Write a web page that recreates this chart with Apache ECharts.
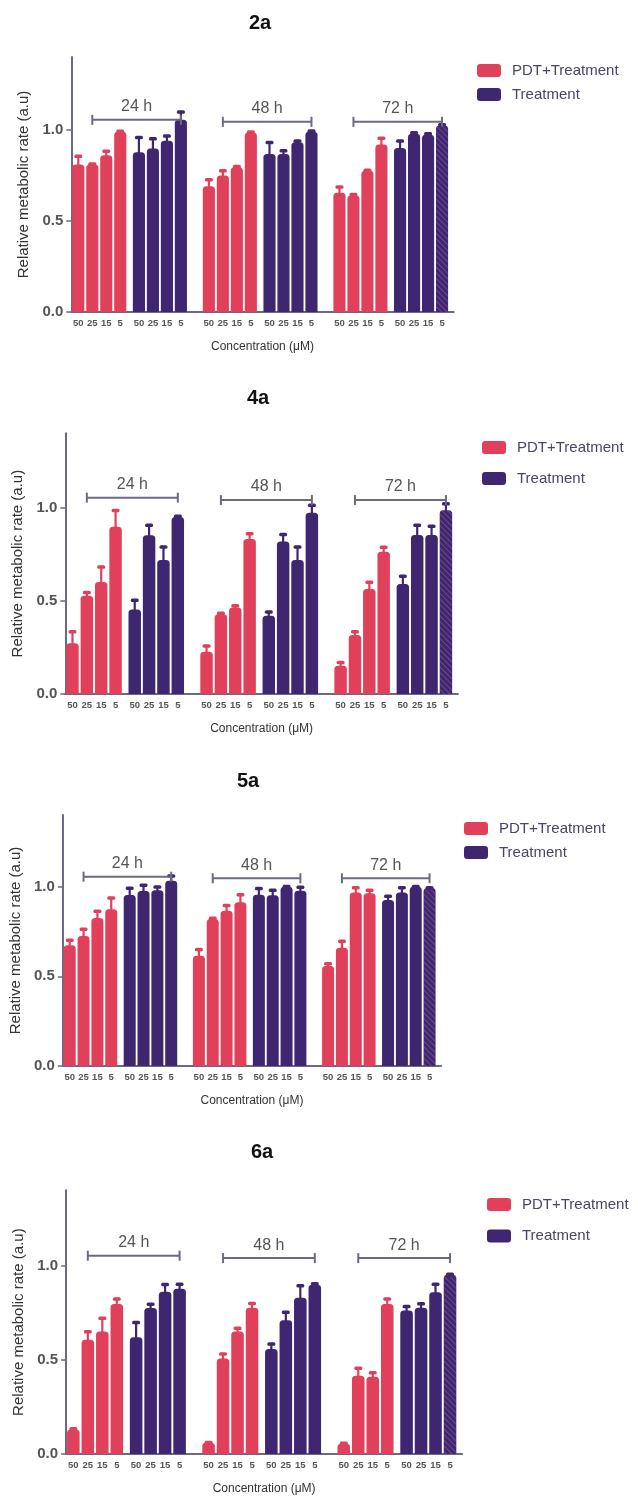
<!DOCTYPE html>
<html><head><meta charset="utf-8">
<script src="https://cdn.jsdelivr.net/npm/echarts@6/dist/echarts.min.js"></script>
<style>html,body{margin:0;padding:0;background:#fff}#chart{width:638px;height:1496px}</style>
</head><body><div id="chart"></div>
<script>
// ---------- DATA ----------
const concentrations = ['50', '25', '15', '5'];
const timepoints = ['24 h', '48 h', '72 h'];
const seriesNames = ['PDT+Treatment', 'Treatment'];
const panelTitles = ['2a', '4a', '5a', '6a'];
const yTickValues = [0, 0.5, 1.0];

// values ordered 24 h (50,25,15,5), 48 h (50,25,15,5), 72 h (50,25,15,5)
const p2a_pdt     = [0.81, 0.81, 0.86, 0.99, 0.69, 0.75, 0.795, 0.985, 0.655, 0.64, 0.775, 0.92];
const p2a_pdt_err = [0.047, 0.004, 0.024, 0.004, 0.037, 0.027, 0.005, 0.005, 0.033, 0.006, 0.005, 0.035];
const p2a_trt     = [0.877, 0.898, 0.94, 1.055, 0.867, 0.868, 0.932, 0.989, 0.90, 0.978, 0.973, 1.024];
const p2a_trt_err = [0.083, 0.054, 0.027, 0.044, 0.065, 0.019, 0.008, 0.006, 0.04, 0.007, 0.007, 0.006];
const p2a_brackets = [1.055, 1.044, 1.044];

const p4a_pdt     = [0.272, 0.528, 0.601, 0.898, 0.227, 0.428, 0.465, 0.832, 0.152, 0.317, 0.564, 0.764];
const p4a_pdt_err = [0.063, 0.018, 0.082, 0.089, 0.032, 0.007, 0.01, 0.03, 0.018, 0.018, 0.037, 0.025];
const p4a_trt     = [0.454, 0.852, 0.719, 0.95, 0.42, 0.819, 0.719, 0.973, 0.59, 0.853, 0.853, 0.987];
const p4a_trt_err = [0.05, 0.055, 0.072, 0.005, 0.022, 0.038, 0.072, 0.041, 0.043, 0.054, 0.049, 0.036];
const p4a_brackets = [1.054, 1.041, 1.041];

const p5a_pdt     = [0.673, 0.725, 0.825, 0.875, 0.615, 0.82, 0.866, 0.913, 0.558, 0.66, 0.968, 0.963];
const p5a_pdt_err = [0.03, 0.039, 0.039, 0.064, 0.036, 0.005, 0.03, 0.044, 0.014, 0.037, 0.028, 0.018];
const p5a_trt     = [0.954, 0.976, 0.98, 1.033, 0.955, 0.952, 1.0, 0.978, 0.926, 0.968, 1.0, 0.993];
const p5a_trt_err = [0.039, 0.033, 0.02, 0.028, 0.036, 0.029, 0.003, 0.02, 0.022, 0.028, 0.002, 0.002];
const p5a_brackets = [1.056, 1.047, 1.047];

const p6a_pdt     = [0.13, 0.606, 0.65, 0.796, 0.06, 0.507, 0.651, 0.776, 0.055, 0.415, 0.41, 0.796];
const p6a_pdt_err = [0.005, 0.044, 0.072, 0.028, 0.003, 0.025, 0.018, 0.025, 0.003, 0.041, 0.023, 0.028];
const p6a_trt     = [0.62, 0.775, 0.861, 0.877, 0.558, 0.71, 0.829, 0.898, 0.762, 0.776, 0.859, 0.951];
const p6a_trt_err = [0.08, 0.021, 0.04, 0.026, 0.027, 0.044, 0.065, 0.007, 0.023, 0.023, 0.044, 0.004];
const p6a_brackets = [1.053, 1.04, 1.04];

const panelData = [
  {pdt: p2a_pdt, pdtErr: p2a_pdt_err, trt: p2a_trt, trtErr: p2a_trt_err, brackets: p2a_brackets},
  {pdt: p4a_pdt, pdtErr: p4a_pdt_err, trt: p4a_trt, trtErr: p4a_trt_err, brackets: p4a_brackets},
  {pdt: p5a_pdt, pdtErr: p5a_pdt_err, trt: p5a_trt, trtErr: p5a_trt_err, brackets: p5a_brackets},
  {pdt: p6a_pdt, pdtErr: p6a_pdt_err, trt: p6a_trt, trtErr: p6a_trt_err, brackets: p6a_brackets}
];

// ---------- LAYOUT / STYLE ----------
const FONT = '"Liberation Sans", Arial, sans-serif';
const RED = '#e0405a';
const PURPLE = '#3e2670';
const AXIS = '#6d6a80';
const layouts = [
  {left: 71.3, width: 382.4, top: 57, height: 255, title: [260, 23], legend: {left: 477, top: 63, gap: 9}},
  {left: 65.3, width: 392.6, top: 433.2, height: 260.8, title: [258, 398], legend: {left: 482, top: 440, gap: 16}},
  {left: 62.8, width: 378.3, top: 815, height: 251, title: [248, 781], legend: {left: 464, top: 821, gap: 9}},
  {left: 66.1, width: 396, top: 1190.3, height: 265, title: [262, 1152], legend: {left: 487, top: 1197, gap: 16.5}}
];
// slot structure of the category axis (spacing units)
const LEAD = 1, TRAIL = 2, BAR_STEP = 3, SUB_OFFSET = 13, GROUP_STEP = 28;
const NSLOTS = LEAD + GROUP_STEP * 2 + SUB_OFFSET + BAR_STEP * 3 + 1 + TRAIL;
function slotOf(g, t, c) { return LEAD + g * GROUP_STEP + t * SUB_OFFSET + c * BAR_STEP; }

const categories = new Array(NSLOTS).fill('');
for (let g = 0; g < 3; g++) for (let t = 0; t < 2; t++) for (let c = 0; c < 4; c++) categories[slotOf(g, t, c)] = concentrations[c];

const grids = [], xAxes = [], yAxes = [], series = [], legends = [], graphics = [];

function errRender(color) {
  return function (params, api) {
    const top = api.coord([api.value(0), api.value(2)]);
    const base = api.coord([api.value(0), api.value(1)]);
    return {type: 'group', children: [
      {type: 'line', shape: {x1: base[0], y1: base[1] + 2, x2: top[0], y2: top[1]}, style: {stroke: color, lineWidth: 2.2}},
      {type: 'rect', shape: {x: top[0] - 4, y: top[1] - 1.5, width: 8, height: 3.5, r: 1.5}, style: {fill: color}}
    ]};
  };
}

layouts.forEach((L, k) => {
  const D = panelData[k];
  const u = L.width / NSLOTS;
  grids.push({left: L.left, top: L.top, width: L.width, height: L.height, containLabel: false});
  xAxes.push({
    type: 'category', gridIndex: k, data: categories, boundaryGap: true,
    name: 'Concentration (\u03bcM)', nameLocation: 'middle', nameGap: 29,
    nameTextStyle: {fontSize: 12, color: '#333', fontFamily: FONT},
    axisLine: {lineStyle: {color: AXIS, width: 2}},
    axisTick: {alignWithLabel: true, length: 5, lineStyle: {color: AXIS, width: 1.5},
      interval: function (i, v) { return v !== ''; }},
    axisLabel: {interval: 0, fontSize: 9.5, fontWeight: 'bold', color: '#555', margin: 6, fontFamily: FONT}
  });
  yAxes.push({
    type: 'value', gridIndex: k, min: 0, max: 1.4, interval: 0.5,
    name: 'Relative metabolic rate (a.u)', nameLocation: 'middle', nameRotate: 90, nameGap: 38,
    nameTextStyle: {fontSize: 15, color: '#333', fontFamily: FONT},
    splitLine: {show: false},
    axisLine: {show: true, lineStyle: {color: AXIS, width: 2}},
    axisTick: {show: true, length: 5, lineStyle: {color: AXIS, width: 1.5}, customValues: yTickValues},
    axisLabel: {fontSize: 15, fontWeight: 'bold', color: '#555', margin: 8, fontFamily: FONT,
      customValues: yTickValues, formatter: v => v.toFixed(1)}
  });
  const bw = u * 2.6;
  [[D.pdt, D.pdtErr, RED], [D.trt, D.trtErr, PURPLE]].forEach(([vals, errs, color], t) => {
    const barData = new Array(NSLOTS).fill('-');
    const errData = [];
    for (let g = 0; g < 3; g++) for (let c = 0; c < 4; c++) {
      const v = vals[g * 4 + c];
      const s = slotOf(g, t, c);
      if (t === 1 && g === 2 && c === 3) {
        barData[s] = {value: v, itemStyle: {decal: {symbol: 'rect', symbolSize: 1, dashArrayX: [[1, 0]], dashArrayY: [1, 3], rotation: Math.PI / 4, color: 'rgba(190,120,170,0.4)'}}};
      } else barData[s] = v;
      errData.push([s, v, v + errs[g * 4 + c]]);
    }
    series.push({
      type: 'bar', name: seriesNames[t], xAxisIndex: k, yAxisIndex: k, data: barData,
      barWidth: bw, barGap: '-100%', itemStyle: {color: color, borderRadius: [3.5, 3.5, 0, 0]}, z: 2
    });
    series.push({
      type: 'custom', name: seriesNames[t], xAxisIndex: k, yAxisIndex: k, data: errData,
      encode: {x: 0, y: [1, 2]}, renderItem: errRender(color), z: 3, silent: true
    });
  });
  // time-point brackets
  const brData = timepoints.map((tp, g) => [slotOf(g, 0, 1), slotOf(g, 1, 3), D.brackets[g]]);
  series.push({
    type: 'custom', xAxisIndex: k, yAxisIndex: k, data: brData, encode: {x: [0, 1], y: 2}, z: 4, silent: true,
    renderItem: function (params, api) {
      const a = api.coord([api.value(0), api.value(2)]);
      const b = api.coord([api.value(1), api.value(2)]);
      const st = {stroke: AXIS, lineWidth: 2};
      return {type: 'group', children: [
        {type: 'line', shape: {x1: a[0], y1: a[1], x2: b[0], y2: b[1]}, style: st},
        {type: 'line', shape: {x1: a[0], y1: a[1] - 5, x2: a[0], y2: a[1] + 5}, style: st},
        {type: 'line', shape: {x1: b[0], y1: b[1] - 5, x2: b[0], y2: b[1] + 5}, style: st},
        {type: 'text', style: {text: timepoints[params.dataIndex], x: (a[0] + b[0]) / 2, y: a[1] - 13,
          align: 'center', verticalAlign: 'middle', font: '16px ' + FONT, fill: '#555'}}
      ]};
    }
  });
  legends.push({
    data: seriesNames, orient: 'vertical', left: L.legend.left, top: L.legend.top, itemGap: L.legend.gap,
    itemWidth: 24, itemHeight: 13, icon: 'roundRect', padding: 0,
    textStyle: {fontSize: 15, color: '#4a4466', fontFamily: FONT, padding: [0, 0, 0, 6]}
  });
  graphics.push({type: 'text', x: L.title[0], y: L.title[1],
    style: {text: panelTitles[k], font: 'bold 20px ' + FONT, fill: '#111', align: 'center', verticalAlign: 'middle'}});
});

const chart = echarts.init(document.getElementById('chart'), null, {renderer: 'canvas'});
chart.setOption({
  animation: false,
  backgroundColor: '#fff',
  textStyle: {fontFamily: FONT},
  color: [RED, PURPLE],
  grid: grids, xAxis: xAxes, yAxis: yAxes, series: series, legend: legends, graphic: graphics
});
</script></body></html>
